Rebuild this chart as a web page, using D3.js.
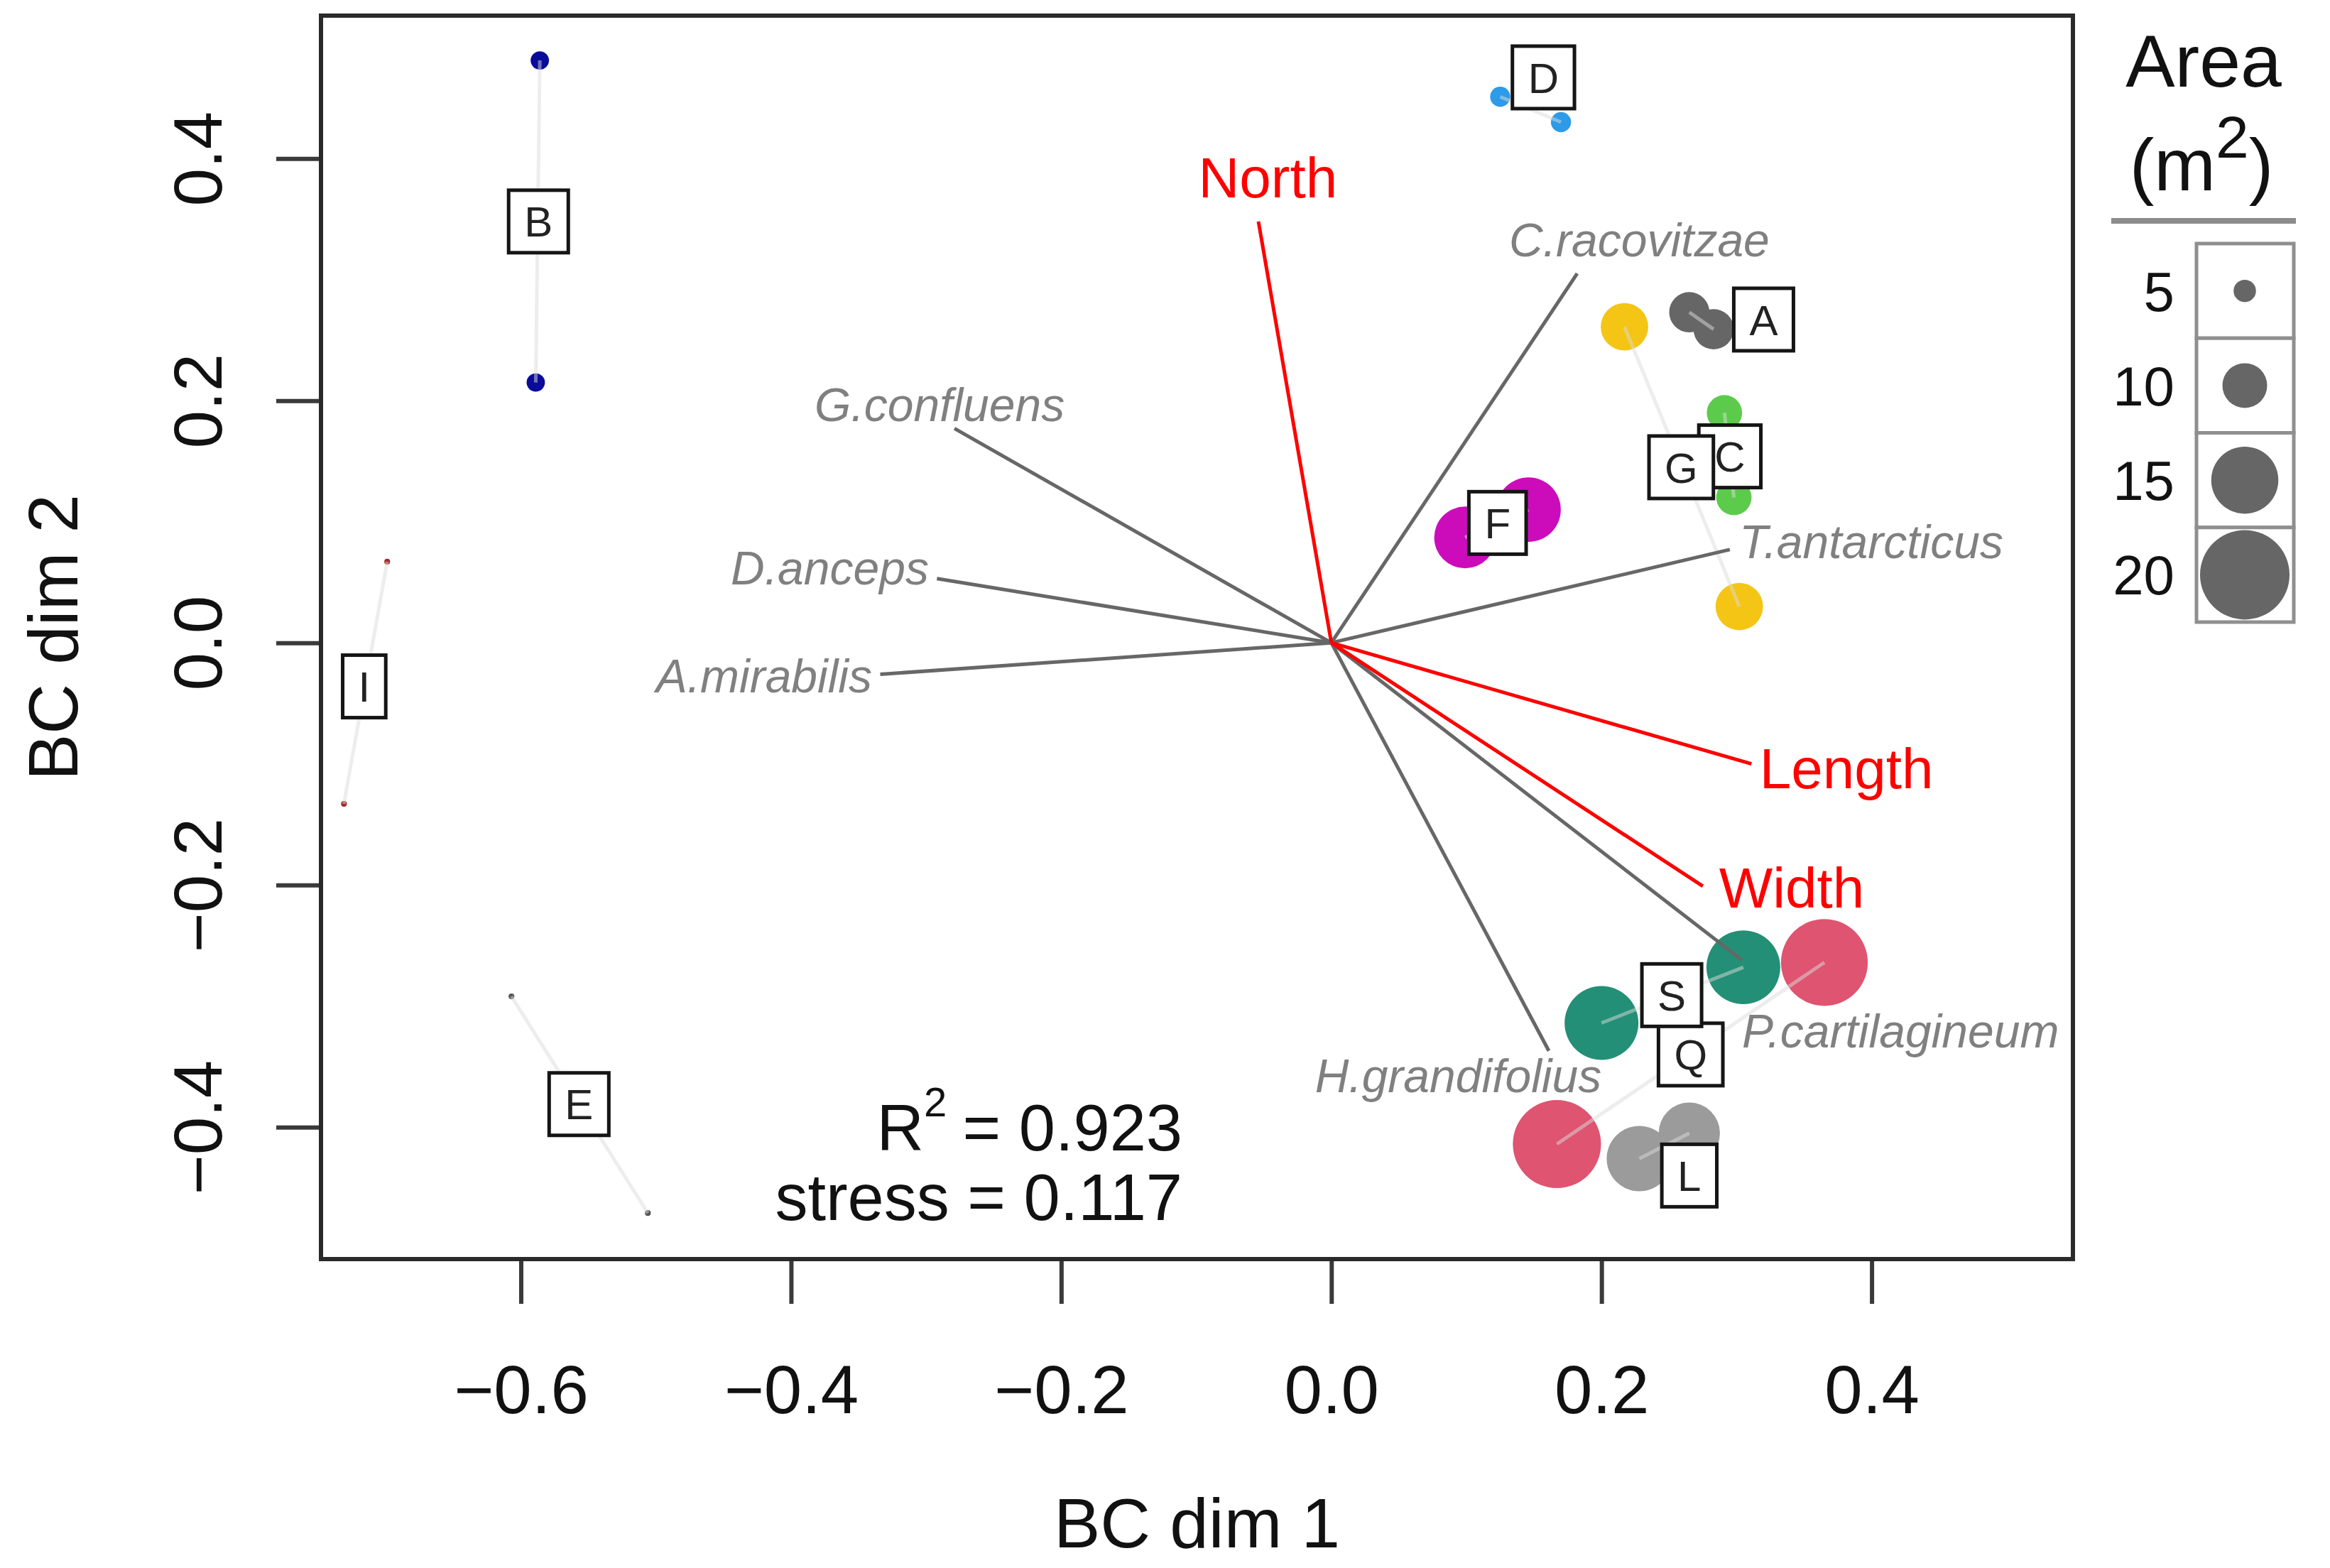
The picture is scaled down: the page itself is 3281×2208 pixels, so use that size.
<!DOCTYPE html>
<html>
<head>
<meta charset="utf-8">
<script src="https://cdn.jsdelivr.net/npm/d3@7"></script>
<style>
body { margin: 0; background: #fff; }
text { font-family: "Liberation Sans", Arial, sans-serif; }
</style>
</head>
<body>
<div id="chart"></div>
<script>
// sample points (two per site), area in m2
var pointGroup = ["A","A","B","B","C","C","D","D","E","E","F","F","G","G","I","I","L","L","Q","Q","S","S"]
var pointX = [0.265,0.283,-0.586,-0.589,0.291,0.298,0.125,0.170,-0.607,-0.506,0.099,0.146,0.217,0.302,-0.699,-0.731,0.228,0.265,0.167,0.365,0.200,0.305]
var pointY = [0.273,0.259,0.481,0.215,0.190,0.120,0.451,0.430,-0.292,-0.471,0.087,0.110,0.261,0.030,0.067,-0.133,-0.426,-0.405,-0.414,-0.264,-0.314,-0.268]
var pointArea = [9.0,9.0,4.1,4.1,7.9,7.9,4.5,4.5,1.3,1.3,13.8,14.4,10.6,10.6,1.3,1.3,14.6,13.7,19.7,19.4,16.5,16.5]

// site labels
var groups = ["A","B","C","D","E","F","G","I","L","Q","S"]
var groupColors = ["#666666","#0b0b9a","#5ccb4c","#2d9be8","#555555","#cc0cba","#f4c514","#a52a2a","#9b9b9b","#df5470","#238f76"]
var groupLabelX = [0.320,-0.587,0.295,0.157,-0.557,0.123,0.259,-0.716,0.265,0.266,0.252]
var groupLabelY = [0.267,0.348,0.154,0.467,-0.381,0.099,0.145,-0.036,-0.440,-0.340,-0.291]

// species vectors
var species = ["G.confluens","D.anceps","A.mirabilis","C.racovitzae","T.antarcticus","P.cartilagineum","H.grandifolius"]
var speciesX = [-0.279,-0.292,-0.334,0.182,0.295,0.304,0.161]
var speciesY = [0.177,0.053,-0.026,0.305,0.077,-0.262,-0.337]
var speciesLabelX = [-0.290,-0.298,-0.340,0.228,0.302,0.304,0.200]
var speciesLabelY = [0.197,0.062,-0.027,0.333,0.084,-0.320,-0.357]
var speciesAnchor = ["middle","end","end","middle","start","start","end"]

// environmental vectors
var envVars = ["North","Length","Width"]
var envX = [-0.054,0.311,0.275]
var envY = [0.348,-0.100,-0.201]
var envLabelX = [-0.047,0.317,0.287]
var envLabelY = [0.385,-0.103,-0.202]
var envAnchor = ["middle","start","start"]

var xTicks = [-0.6,-0.4,-0.2,0.0,0.2,0.4]
var yTicks = [-0.4,-0.2,0.0,0.2,0.4]
var legendSizes = [5,10,15,20]
var r2 = 0.923, stress = 0.117

var width = 3281, height = 2208
var box = {left: 452, right: 2919, top: 22, bottom: 1773}

var svg = d3.select("#chart").append("svg")
            .attr("width", width)
            .attr("height", height)

svg.append("rect").attr("width", width).attr("height", height).attr("fill", "#fff")

var x = d3.scaleLinear().domain([-0.748, 0.549]).range([box.left, box.right])
var y = d3.scaleLinear().domain([-0.509, 0.518]).range([box.bottom, box.top])
var rad = d3.scaleLinear().domain([0, 20]).range([0, 63])
var color = d3.scaleOrdinal().domain(groups).range(groupColors)

var points = pointGroup.map(function (g, i) {
   return {g: g, x: pointX[i], y: pointY[i], a: pointArea[i]}
})

// circles
svg.append("g").selectAll("circle").data(points)
   .enter().append("circle")
   .attr("cx", function (d) { return x(d.x) })
   .attr("cy", function (d) { return y(d.y) })
   .attr("r", function (d) { return rad(d.a) })
   .attr("fill", function (d) { return color(d.g) })

// lines joining the two samples of a site
var pairs = groups.map(function (g) {
   return points.filter(function (d) { return d.g == g })
})
svg.append("g").selectAll("line").data(pairs)
   .enter().append("line")
   .attr("x1", function (d) { return x(d[0].x) })
   .attr("y1", function (d) { return y(d[0].y) })
   .attr("x2", function (d) { return x(d[1].x) })
   .attr("y2", function (d) { return y(d[1].y) })
   .attr("stroke", "#dcdcdc")
   .attr("stroke-opacity", 0.5)
   .attr("stroke-width", 5)

// species arrows
var gs = svg.append("g")
gs.selectAll("line").data(species)
   .enter().append("line")
   .attr("x1", x(0)).attr("y1", y(0))
   .attr("x2", function (d, i) { return x(speciesX[i]) })
   .attr("y2", function (d, i) { return y(speciesY[i]) })
   .attr("stroke", "#676767")
   .attr("stroke-width", 5)

gs.selectAll("text").data(species)
   .enter().append("text")
   .attr("x", function (d, i) { return x(speciesLabelX[i]) })
   .attr("y", function (d, i) { return y(speciesLabelY[i]) })
   .attr("dy", "0.36em")
   .attr("text-anchor", function (d, i) { return speciesAnchor[i] })
   .attr("font-size", 66)
   .attr("font-style", "italic")
   .attr("fill", "#808080")
   .text(function (d) { return d })

// environment arrows
var ge = svg.append("g")
ge.selectAll("line").data(envVars)
   .enter().append("line")
   .attr("x1", x(0)).attr("y1", y(0))
   .attr("x2", function (d, i) { return x(envX[i]) })
   .attr("y2", function (d, i) { return y(envY[i]) })
   .attr("stroke", "#ff0000")
   .attr("stroke-width", 5)

ge.selectAll("text").data(envVars)
   .enter().append("text")
   .attr("x", function (d, i) { return x(envLabelX[i]) })
   .attr("y", function (d, i) { return y(envLabelY[i]) })
   .attr("dy", "0.36em")
   .attr("text-anchor", function (d, i) { return envAnchor[i] })
   .attr("font-size", 80)
   .attr("fill", "#ff0000")
   .text(function (d) { return d })

// site label boxes
var gl = svg.append("g").selectAll("g").data(groups)
   .enter().append("g")
   .attr("transform", function (d, i) {
      return "translate(" + x(groupLabelX[i]) + "," + y(groupLabelY[i]) + ")"
   })
gl.append("rect")
gl.append("text")
   .attr("text-anchor", "middle")
   .attr("dy", "0.36em")
   .attr("font-size", 60)
   .attr("fill", "#222")
   .text(function (d) { return d })
gl.each(function () {
   var g = d3.select(this)
   var w = g.select("text").node().getComputedTextLength() + 44
   g.select("rect")
      .attr("x", -w / 2).attr("y", -44)
      .attr("width", w).attr("height", 88)
      .attr("fill", "#fff")
      .attr("stroke", "#151515")
      .attr("stroke-width", 5)
})

// axes
var xAxis = svg.append("g")
   .attr("transform", "translate(0," + box.bottom + ")")
   .call(d3.axisBottom(x).tickValues(xTicks).tickSize(63).tickPadding(86).tickFormat(d3.format(".1f")))
var yAxis = svg.append("g")
   .attr("transform", "translate(" + box.left + ",0)")
   .call(d3.axisLeft(y).tickValues(yTicks).tickSize(63).tickFormat(d3.format(".1f")))
yAxis.selectAll(".tick text")
   .attr("transform", "rotate(-90)")
   .attr("x", 0).attr("y", -140).attr("dy", 0)
   .attr("text-anchor", "middle")

svg.selectAll(".domain").remove()
svg.selectAll(".tick line").attr("stroke", "#3a3a3a").attr("stroke-width", 6)
svg.selectAll(".tick text")
   .attr("font-family", '"Liberation Sans", Arial, sans-serif')
   .attr("font-size", 96).attr("fill", "#111")

// frame
svg.append("rect")
   .attr("x", box.left).attr("y", box.top)
   .attr("width", box.right - box.left).attr("height", box.bottom - box.top)
   .attr("fill", "none")
   .attr("stroke", "#2a2a2a")
   .attr("stroke-width", 6)

// axis titles
svg.append("text")
   .attr("x", (box.left + box.right) / 2).attr("y", 2179)
   .attr("text-anchor", "middle")
   .attr("font-size", 98).attr("fill", "#111")
   .text("BC dim 1")
svg.append("text")
   .attr("transform", "translate(109," + (box.top + box.bottom) / 2 + ") rotate(-90)")
   .attr("text-anchor", "middle")
   .attr("font-size", 98).attr("fill", "#111")
   .text("BC dim 2")

// fit statistics
var st = svg.append("g").attr("font-size", 92).attr("fill", "#111").attr("text-anchor", "end")
var t1 = st.append("text").attr("x", 1665).attr("y", 1620)
t1.append("tspan").text("R")
t1.append("tspan").attr("font-size", 58).attr("dy", -48).text("2")
t1.append("tspan").attr("dy", 48).attr("font-size", 80).text(" ")
t1.append("tspan").text("= " + r2.toFixed(3))
st.append("text").attr("x", 1665).attr("y", 1718).text("stress = " + stress.toFixed(3))

// size legend
var leg = svg.append("g")
leg.append("text")
   .attr("x", 3103).attr("y", 122)
   .attr("text-anchor", "middle")
   .attr("font-size", 104).attr("fill", "#111")
   .text("Area")
var lt = leg.append("text")
   .attr("x", 3100).attr("y", 268)
   .attr("text-anchor", "middle")
   .attr("font-size", 104).attr("fill", "#111")
lt.append("tspan").text("(m")
lt.append("tspan").attr("font-size", 84).attr("dy", -46).text("2")
lt.append("tspan").attr("dy", 46).text(")")
leg.append("line")
   .attr("x1", 2973).attr("x2", 3233)
   .attr("y1", 311).attr("y2", 311)
   .attr("stroke", "#8c8c8c").attr("stroke-width", 8)

var ly = d3.scaleBand().domain(legendSizes).range([343, 876])
var items = leg.selectAll("g.item").data(legendSizes)
   .enter().append("g").attr("class", "item")
items.append("rect")
   .attr("x", 3093).attr("width", 137)
   .attr("y", function (d) { return ly(d) })
   .attr("height", ly.bandwidth())
   .attr("fill", "#fff")
   .attr("stroke", "#8f8f8f").attr("stroke-width", 5)
items.append("circle")
   .attr("cx", 3161)
   .attr("cy", function (d) { return ly(d) + ly.bandwidth() / 2 })
   .attr("r", function (d) { return rad(d) })
   .attr("fill", "#666")
items.append("text")
   .attr("x", 3062)
   .attr("y", function (d) { return ly(d) + ly.bandwidth() / 2 })
   .attr("dy", "0.36em")
   .attr("text-anchor", "end")
   .attr("font-size", 78).attr("fill", "#111")
   .text(function (d) { return d })
</script>
</body>
</html>
